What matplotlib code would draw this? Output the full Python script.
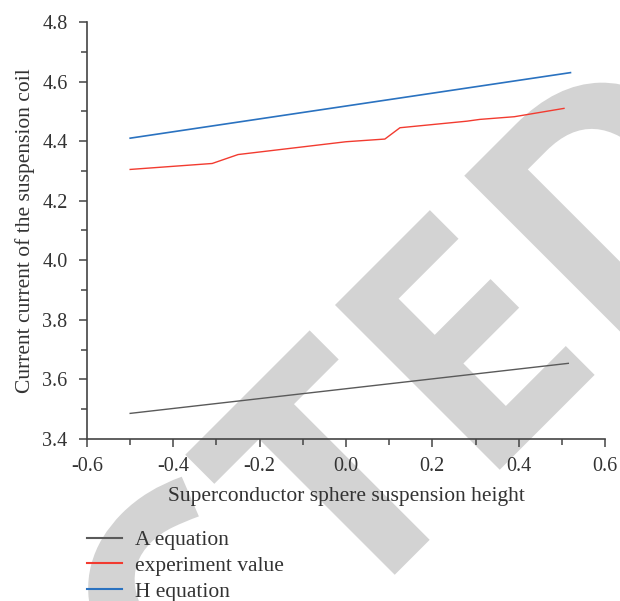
import numpy as np
import matplotlib
matplotlib.use("Agg")
import matplotlib.pyplot as plt
from matplotlib.ticker import MultipleLocator, FormatStrFormatter
from matplotlib.textpath import TextPath
from matplotlib.font_manager import FontProperties
from matplotlib.patches import PathPatch
from matplotlib.transforms import Affine2D

plt.rcParams['font.family'] = ['Liberation Serif', 'DejaVu Serif']
plt.rcParams['axes.unicode_minus'] = False

# data
h_x = [-0.5, 0.52]
h_y = [4.41, 4.63]

exp_x = [-0.5, -0.31, -0.25, 0.0, 0.09, 0.125, 0.28, 0.31, 0.39, 0.505]
exp_y = [4.305, 4.325, 4.355, 4.398, 4.407, 4.445, 4.467, 4.473, 4.482, 4.51]

a_x = [-0.5, 0.515]
a_y = [3.486, 3.654]

labels = ["A equation", "experiment value", "H equation"]

W, H = 620, 601
fig = plt.figure(figsize=(W / 100, H / 100), dpi=100)

# retraction watermark: word outline placed in pixel space, behind the chart
word = "RETRACTED"
fp = FontProperties(family='Open Sans', weight='bold')
cap = TextPath((0, 0), "E", size=100, prop=fp).get_extents().height
S = 233 * 100 / cap
wm = TextPath((0, 0), word, size=S, prop=fp)
e_left = (TextPath((0, 0), word[:8], size=S, prop=fp).get_extents().xmax
          - TextPath((0, 0), "E", size=S, prop=fp).get_extents().width)
a, b = e_left, 233
ox = 335 - (a - b) / np.sqrt(2)
oy = (H - 305) - (a + b) / np.sqrt(2)
tr = (Affine2D().rotate_deg(45).translate(ox, oy)
      .scale(1 / 100) + fig.dpi_scale_trans)
fig.add_artist(PathPatch(wm, transform=tr, facecolor='#d3d3d3',
                         edgecolor='none', zorder=-5))

ax = fig.add_axes([87 / W, (H - 439) / H, 518 / W, 417 / H])
ax.patch.set_alpha(0)

la, = ax.plot(a_x, a_y, color='#5a5a5a', lw=1.0)
le, = ax.plot(exp_x, exp_y, color='#f23b30', lw=1.0)
lh, = ax.plot(h_x, h_y, color='#2a72c0', lw=1.2)

ax.set_xlim(-0.6, 0.6)
ax.set_ylim(3.4, 4.8)
ax.xaxis.set_major_locator(MultipleLocator(0.2))
ax.xaxis.set_minor_locator(MultipleLocator(0.1))
ax.yaxis.set_major_locator(MultipleLocator(0.2))
ax.yaxis.set_minor_locator(MultipleLocator(0.1))
ax.xaxis.set_major_formatter(FormatStrFormatter('%.1f'))
ax.yaxis.set_major_formatter(FormatStrFormatter('%.1f'))

for s in ['top', 'right']:
    ax.spines[s].set_visible(False)
for s in ['left', 'bottom']:
    ax.spines[s].set_color('#444444')
    ax.spines[s].set_linewidth(1.2)

ax.tick_params(which='major', direction='out', length=6, width=1.1,
               color='#444444', labelsize=14.5, labelcolor='#333333')
ax.tick_params(which='minor', direction='out', length=4, width=1.1,
               color='#444444')
ax.tick_params(axis='x', which='major', pad=7)
ax.tick_params(axis='y', which='major', pad=8)

ax.set_xlabel("Superconductor sphere suspension height", fontsize=15.5,
              color='#333333', labelpad=8)
ax.set_ylabel("Current current of the suspension coil", fontsize=15.5,
              color='#333333', labelpad=5)

leg = fig.legend([la, le, lh], labels, loc='upper left',
                 bbox_to_anchor=(87 / W, (H - 530) / H),
                 frameon=False, fontsize=15.5, handlelength=1.63,
                 handletextpad=0.6, labelspacing=0.27, borderaxespad=0,
                 borderpad=0)
for t in leg.get_texts():
    t.set_color('#333333')
for l in leg.get_lines():
    l.set_linewidth(1.5)

fig.savefig("out.png", dpi=100)
